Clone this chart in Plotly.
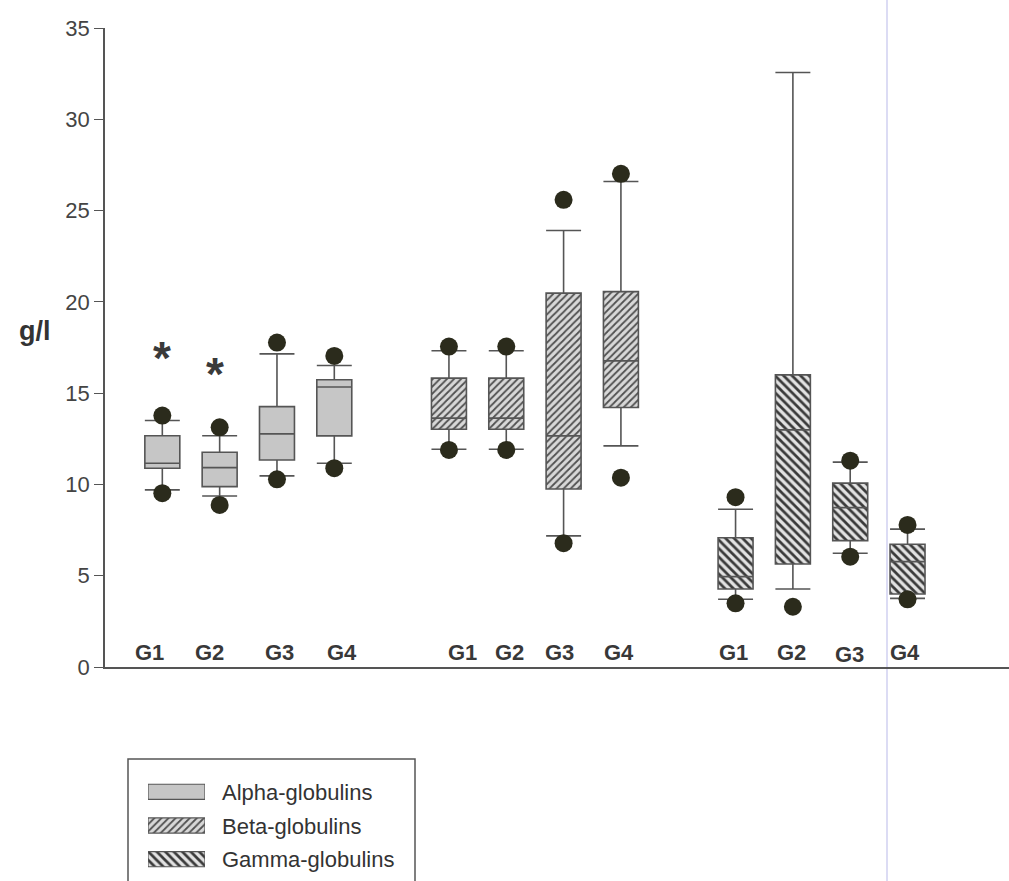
import plotly.graph_objects as go

# ---------------- data ----------------
series = ["Alpha-globulins", "Beta-globulins", "Gamma-globulins"]
groups = ["G1", "G2", "G3", "G4"]

alpha_q1 = [10.89, 9.88, 11.34, 12.66]
alpha_med = [11.16, 10.92, 12.77, 15.34]
alpha_q3 = [12.67, 11.76, 14.26, 15.73]
alpha_lo = [9.70, 9.37, 10.47, 11.16]
alpha_hi = [13.50, 12.67, 17.15, 16.51]
alpha_dot_lo = [9.52, 8.88, 10.28, 10.89]
alpha_dot_hi = [13.77, 13.13, 17.77, 17.04]

beta_q1 = [13.02, 13.02, 9.75, 14.21]
beta_med = [13.63, 13.63, 12.66, 16.77]
beta_q3 = [15.82, 15.82, 20.48, 20.56]
beta_lo = [11.93, 11.93, 7.18, 12.11]
beta_hi = [17.32, 17.32, 23.91, 26.59]
beta_dot_lo = [11.89, 11.89, 6.78, 10.37]
beta_dot_hi = [17.55, 17.55, 25.59, 27.01]

gamma_q1 = [4.27, 5.64, 6.92, 4.00]
gamma_med = [4.95, 12.99, 8.73, 5.77]
gamma_q3 = [7.08, 16.00, 10.07, 6.72]
gamma_lo = [3.71, 4.27, 6.23, 3.76]
gamma_hi = [8.64, 32.56, 11.22, 7.55]
gamma_dot_lo = [3.49, 3.30, 6.04, 3.71]
gamma_dot_hi = [9.30, None, 11.30, 7.78]

# significance markers (alpha G1, G2)
star_groups = [0, 1]
star_values = [17.55, 16.64]

# ---------------- layout helpers ----------------
W, H = 1009, 881
ML, MT = 105, 28
PW, PH = W - ML, H - MT
Y0_PX = 667  # pixel of y=0


def px_x(px):
    return (px - ML) / PW


def px_y(py):
    return (H - py) / PH


slot_start = [0, 5, 10]
box_w = 0.61

styles = [
    dict(color="#c6c6c6", pattern=dict(shape="", fillmode="replace")),
    dict(color="#d8d8d8", pattern=dict(shape="/", fgcolor="#505050", bgcolor="#d8d8d8",
                                       size=5, solidity=0.35, fillmode="replace")),
    dict(color="#e0e0e0", pattern=dict(shape="\\", fgcolor="#3a3a3a", bgcolor="#e2e2e2",
                                       size=6, solidity=0.45, fillmode="replace")),
]

data = [
    (alpha_q1, alpha_med, alpha_q3, alpha_lo, alpha_hi, alpha_dot_lo, alpha_dot_hi),
    (beta_q1, beta_med, beta_q3, beta_lo, beta_hi, beta_dot_lo, beta_dot_hi),
    (gamma_q1, gamma_med, gamma_q3, gamma_lo, gamma_hi, gamma_dot_lo, gamma_dot_hi),
]

fig = go.Figure()
line_col = "#555555"
dot_col = "#2b2b1c"
FONT = "Liberation Sans, Arial"

for si, (q1, med, q3, lo, hi, dlo, dhi) in enumerate(data):
    xs = [slot_start[si] + i for i in range(len(groups))]
    fig.add_trace(go.Bar(
        x=xs, y=[b - a for a, b in zip(q1, q3)], base=q1, width=box_w,
        marker=dict(color=styles[si]["color"], pattern=styles[si]["pattern"],
                    line=dict(width=0)),
        showlegend=False, hoverinfo="skip", xaxis="x", yaxis="y",
    ))
    fig.add_trace(go.Box(
        x=xs, q1=q1, median=med, q3=q3, lowerfence=lo, upperfence=hi,
        width=box_w, whiskerwidth=1, fillcolor="rgba(0,0,0,0)",
        line=dict(color=line_col, width=1.6), boxpoints=False,
        showlegend=False, name=series[si], xaxis="x", yaxis="y",
    ))
    dx, dy = [], []
    for x, a, b in zip(xs, dlo, dhi):
        for v in (a, b):
            if v is not None:
                dx.append(x)
                dy.append(v)
    fig.add_trace(go.Scatter(
        x=dx, y=dy, mode="markers",
        marker=dict(size=18, color=dot_col, line=dict(width=0)),
        showlegend=False, hoverinfo="skip", xaxis="x", yaxis="y",
    ))

# custom legend swatches on their own small axes
for si in range(3):
    fig.add_trace(go.Bar(
        x=[1], y=[si], base=[0], orientation="h", width=0.45,
        marker=dict(color=styles[si]["color"], pattern=styles[si]["pattern"],
                    line=dict(width=1.2, color=line_col)),
        showlegend=False, hoverinfo="skip", xaxis="x2", yaxis="y2",
    ))

annotations = []
label_x = [-0.227, 0.818, 2.045, 3.134, 5.24, 6.056, 6.935, 7.96, 9.958, 10.98, 11.98, 12.96]
label_y = [0.93] * 10 + [0.80, 0.93]
for k, (lx, ly) in enumerate(zip(label_x, label_y)):
    annotations.append(dict(
        x=lx, y=ly, xref="x", yref="y", text="<b>%s</b>" % groups[k % 4], showarrow=False,
        font=dict(family=FONT, size=22, color="#383838"),
        xanchor="center", yanchor="middle", yshift=-2,
    ))
star_dx = [0.0, -0.08]
for g, v, d in zip(star_groups, star_values, star_dx):
    annotations.append(dict(
        x=g + d, y=v, xref="x", yref="y", text="<b>*</b>", showarrow=False,
        font=dict(family=FONT, size=46, color="#3a3a3a"),
        xanchor="center", yanchor="middle", yshift=-11,
    ))
annotations.append(dict(
    x=px_x(35), y=px_y(331), xref="paper", yref="paper", text="<b>g/l</b>",
    showarrow=False, font=dict(family=FONT, size=27, color="#333333"),
    xanchor="center", yanchor="middle",
))
legend_rows_py = [792, 826, 859]
for si, py in enumerate(legend_rows_py):
    annotations.append(dict(
        x=px_x(220), y=px_y(py), xref="paper", yref="paper", text=series[si],
        showarrow=False, font=dict(family=FONT, size=22, color="#333333"),
        xanchor="left", yanchor="middle",
    ))

shapes = [
    dict(type="line", xref="paper", yref="paper", x0=px_x(887), x1=px_x(887),
         y0=px_y(H + 5), y1=px_y(-5), line=dict(color="#dcdcf4", width=2), layer="below"),
    dict(type="rect", xref="paper", yref="paper", x0=px_x(128), x1=px_x(415),
         y0=px_y(H + 20), y1=px_y(759), line=dict(color="#555555", width=1.5),
         fillcolor="rgba(0,0,0,0)"),
]

fig.update_layout(
    width=W, height=H, autosize=False,
    margin=dict(l=ML, r=0, t=MT, b=0, pad=0, autoexpand=False),
    paper_bgcolor="white", plot_bgcolor="white",
    barmode="overlay", boxmode="overlay",
    showlegend=False,
    font=dict(family=FONT, color="#444444"),
    xaxis=dict(
        domain=[0, 1], range=[-1.0, 14.77], showgrid=False, zeroline=False,
        showline=True, linecolor="#555555", linewidth=1.6, showticklabels=False,
        ticks="", anchor="y", automargin=False,
    ),
    yaxis=dict(
        domain=[px_y(Y0_PX), 1], range=[0, 35], tickvals=[0, 5, 10, 15, 20, 25, 30, 35],
        showgrid=False, zeroline=False, showline=True, linecolor="#555555", linewidth=1.6,
        ticks="outside", ticklen=9, tickwidth=1.4, tickcolor="#555555",
        tickfont=dict(family=FONT, size=22, color="#444444"), anchor="x", automargin=False,
    ),
    xaxis2=dict(domain=[px_x(148), px_x(205)], range=[0, 1], visible=False, anchor="y2",
                automargin=False),
    yaxis2=dict(domain=[px_y(876), px_y(775)], range=[2.5, -0.5], visible=False, anchor="x2",
                automargin=False),
    annotations=annotations,
    shapes=shapes,
)

fig.write_html("out.html", config={"responsive": False})
